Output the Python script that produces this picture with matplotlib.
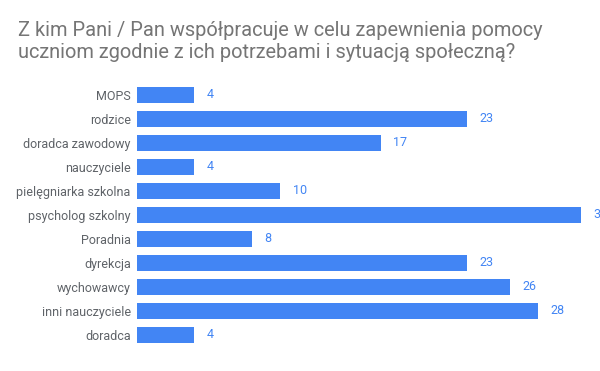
import matplotlib
matplotlib.use("Agg")
import matplotlib.pyplot as plt

categories = [
    "MOPS",
    "rodzice",
    "doradca zawodowy",
    "nauczyciele",
    "pielęgniarka szkolna",
    "psycholog szkolny",
    "Poradnia",
    "dyrekcja",
    "wychowawcy",
    "inni nauczyciele",
    "doradca",
]
values = [4, 23, 17, 4, 10, 31, 8, 23, 26, 28, 4]

title = "Z kim Pani / Pan współpracuje w celu zapewnienia pomocy\nuczniom zgodnie z ich potrzebami i sytuacją społeczną?"

BAR_COLOR = "#4285f4"
LABEL_COLOR = "#5f6368"
TITLE_COLOR = "#757575"

plt.rcParams["font.family"] = ["Roboto", "DejaVu Sans"]

W, H = 600, 371
fig = plt.figure(figsize=(W / 100, H / 100), dpi=100)
ax = fig.add_axes([137 / W, 1 - 347 / H, 463 / W, 264 / H])

y = list(range(len(categories)))
ax.barh(y, values, height=0.667, color=BAR_COLOR)
ax.set_ylim(len(categories) - 0.5, -0.5)
ax.set_xlim(0, 463 / 14.33)

ax.set_yticks(y)
ax.set_yticklabels(categories, fontsize=9, color=LABEL_COLOR)
ax.tick_params(axis="y", length=0, pad=4.5)
ax.set_xticks([])
for s in ax.spines.values():
    s.set_visible(False)

# value labels; the longest one runs off the right edge as in the original
for yi, v in zip(y, values):
    ax.annotate(str(v), (v, yi), xytext=(9, 0), textcoords="offset points",
                va="center", ha="left", fontsize=9, color=BAR_COLOR,
                annotation_clip=False)

fig.text(18 / W, 1 - 21 / H, title, fontsize=14.45, color=TITLE_COLOR,
         va="top", ha="left", linespacing=1.18)

fig.savefig("out.png", dpi=100)
